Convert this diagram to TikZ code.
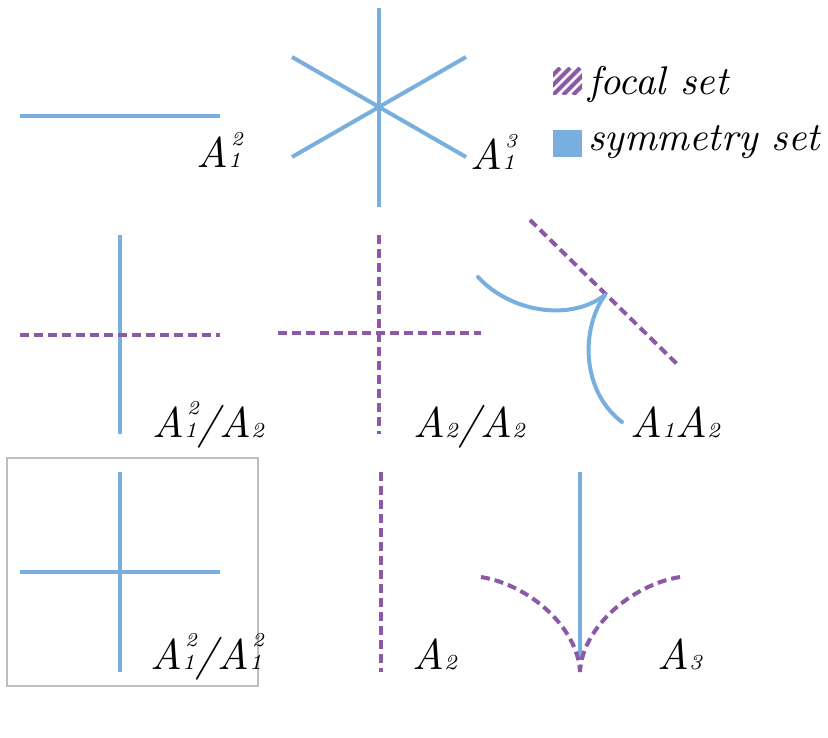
\documentclass[tikz,border=0pt]{standalone}
\definecolor{symc}{RGB}{120,175,222}
\definecolor{focc}{RGB}{140,88,168}
\definecolor{boxc}{RGB}{190,190,190}
\tikzset{
  symline/.style={draw=symc,line width=4pt},
  focline/.style={draw=focc,line width=4pt,dash pattern=on 9pt off 5pt},
  lbl/.style={anchor=base west,inner sep=0pt,font=\fontsize{10}{10}\selectfont\itshape},
  leg/.style={anchor=base west,inner sep=0pt,font=\fontsize{10}{10}\selectfont\itshape}
}
\newcommand\lab[1]{\scalebox{4.3}{#1}}
\newcommand\legtxt[1]{\scalebox{4}{#1}}
\newcommand\mysb[1]{{\fontsize{5}{5}\selectfont #1}}
\newcommand\mysbp[2]{\rlap{\raisebox{5.3pt}{\kern0.7pt\fontsize{4.6}{5}\selectfont #2}}{\fontsize{5}{5}\selectfont #1}}
\begin{document}
\begin{tikzpicture}[x=1pt,y=-1pt]
\useasboundingbox (0,0) rectangle (828,738);
% row 1
\draw[symline] (20,116) -- (220,116);
\node[lbl] (l1) at (196,168) {\lab{A\mysbp{1}{2}}};
\coordinate (c) at (379,106);
\draw[symline] (379,8) -- (379,207);
\draw[symline] (292,57) -- (466,157);
\draw[symline] (292,157) -- (466,57);
\node[lbl] (l2) at (470,170) {\lab{A\mysbp{1}{3}}};
% legend
\begin{scope}
\clip (553,68) rectangle (582,95);
\foreach \i in {-30,-20,...,40} {
  \draw[focc,line width=4pt] (553+\i,95) -- (553+\i+27,68);
}
\end{scope}
\node[leg] (lf) at (588,95) {\legtxt{focal set}};
\fill[symc] (553,130) rectangle (582,157);
\node[leg] (ls) at (588,151) {\legtxt{symmetry set}};
% row 2
\draw[symline] (120,235) -- (120,434);
\draw[focline] (20,335) -- (220,335);
\node[lbl] (l3) at (152,437) {\lab{A\mysbp{1}{2}/A\mysb{2}}};
\draw[focline] (379,235) -- (379,434);
\draw[focline] (278,333) -- (481,333);
\node[lbl] (l4) at (413,437) {\lab{A\mysb{2}/A\mysb{2}}};
\draw[focline] (530,220) -- (677,364);
\coordinate (cusp) at (605,295);
\draw[symline,line cap=round] (478,277) .. controls (510,312) and (570,322) .. (cusp);
\draw[symline,line cap=round] (cusp) .. controls (580,330) and (582,392) .. (622,422);
\node[lbl] (l5) at (630,437) {\lab{A\mysb{1}A\mysb{2}}};
% row 3
\draw[boxc,line width=2pt] (7,458) rectangle (258,686);
\draw[symline] (120,472) -- (120,672);
\draw[symline] (20,572) -- (220,572);
\node[lbl] (l6) at (150,669) {\lab{A\mysbp{1}{2}/A\mysbp{1}{2}}};
\draw[focline] (381,472) -- (381,672);
\node[lbl] (l7) at (412,669) {\lab{A\mysb{2}}};
\draw[symline] (580,472) -- (580,660);
\coordinate (cusp3) at (580,672);
\draw[focline] (481,577) .. controls (530,585) and (578,628) .. (cusp3);
\draw[focline] (680,577) .. controls (631,585) and (582,628) .. (cusp3);
\node[lbl] (l8) at (657,669) {\lab{A\mysb{3}}};
\end{tikzpicture}
\end{document}
